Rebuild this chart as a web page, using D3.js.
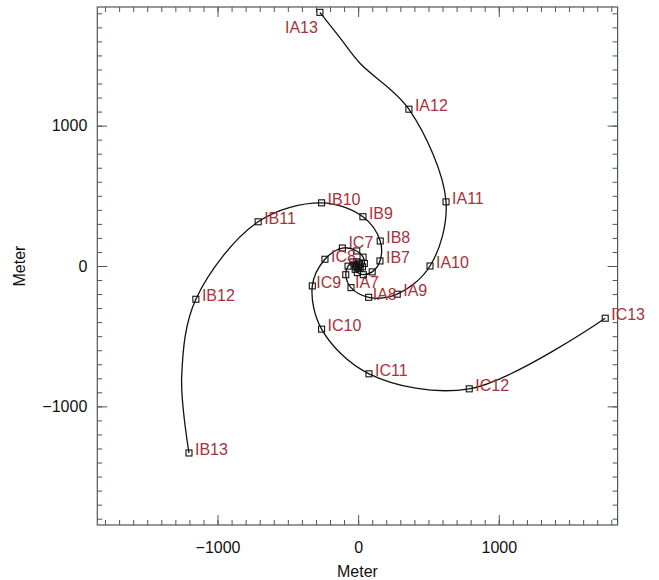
<!DOCTYPE html>
<html>
<head>
<meta charset="utf-8">
<script src="https://cdn.jsdelivr.net/npm/d3@7"></script>
<style>
  html, body { margin: 0; padding: 0; background: #fff; }
  svg { display: block; font-family: "Liberation Sans", Arial, Helvetica, sans-serif; }
</style>
</head>
<body>
<svg id="chart" width="659" height="580"></svg>
<script>
// Station positions (metres) along the three spiral arms, inner to outer
const namesA = ["IA1","IA2","IA3","IA4","IA5","IA6","IA7","IA8","IA9","IA10","IA11","IA12","IA13"];
const xA = [11, 7, -10, -38, -72, -88, -51, 75, 278, 511, 625, 361, -272];
const yA = [8, 20, 30, 29, -1, -62, -154, -223, -201, 0, 457, 1117, 1807];

const namesB = ["IB1","IB2","IB3","IB4","IB5","IB6","IB7","IB8","IB9","IB10","IB11","IB12","IB13"];
const xB = [-12, -21, -21, -6, 37, 100, 155, 157, 34, -260, -711, -1154, -1203];
const yB = [6, -4, -24, -47, -62, -42, 36, 178, 351, 450, 315, -237, -1332];

const namesC = ["IC1","IC2","IC3","IC4","IC5","IC6","IC7","IC8","IC9","IC10","IC11","IC12","IC13"];
const xC = [1, 14, 31, 44, 35, -10, -112, -236, -326, -260, 77, 790, 1757];
const yC = [-14, -16, -6, 18, 63, 107, 128, 48, -142, -450, -768, -875, -372];

// Cable route bends after a given station: [station index, [x, y], ...]
const bendA = [11, [13, 1444], [-130, 1627]];
const bendB = [11, [-1255, -787]];

// Stations 1-6 sit in the dense core and carry no label
const firstLabelled = 6;

// Axis ticks
const majorTicks = [-1000, 0, 1000];
const minorTicks = d3.range(-1800, 1801, 100);
const axisTitle = "Meter";

const svg = d3.select("#chart");
const plotLeft = 97.3, plotRight = 617.6, plotTop = 7, plotBottom = 525;

const x = d3.scaleLinear().domain([-1855, 1845]).range([plotLeft, plotRight]);
const y = d3.scaleLinear().domain([-1845, 1845]).range([plotBottom, plotTop]);

const axisColor = "#4e575a";
const labelColor = "#a8323a";

// ---- frame and ticks on all four sides, pointing inward ----
function styleAxis(g) {
  g.select(".domain").remove();
  g.selectAll(".tick line").attr("stroke", axisColor).attr("stroke-width", 1);
  g.selectAll("text").attr("fill", "#111").style("font-size", "16px")
    .style("font-family", "'Liberation Sans', Arial, Helvetica, sans-serif");
}

const fmt = d3.format("d");
// bottom
svg.append("g").attr("transform", `translate(0,${plotBottom})`)
  .call(d3.axisBottom(x).tickValues(minorTicks).tickSize(-5).tickFormat(""))
  .call(styleAxis);
svg.append("g").attr("transform", `translate(0,${plotBottom})`)
  .call(d3.axisBottom(x).tickValues(majorTicks).tickSize(-10).tickPadding(17).tickFormat(fmt))
  .call(styleAxis);
// top
svg.append("g").attr("transform", `translate(0,${plotTop})`)
  .call(d3.axisTop(x).tickValues(minorTicks).tickSize(-5).tickFormat(""))
  .call(styleAxis);
svg.append("g").attr("transform", `translate(0,${plotTop})`)
  .call(d3.axisTop(x).tickValues(majorTicks).tickSize(-10).tickFormat(""))
  .call(styleAxis);
// left
svg.append("g").attr("transform", `translate(${plotLeft},0)`)
  .call(d3.axisLeft(y).tickValues(minorTicks).tickSize(-5).tickFormat(""))
  .call(styleAxis);
svg.append("g").attr("transform", `translate(${plotLeft},0)`)
  .call(d3.axisLeft(y).tickValues(majorTicks).tickSize(-10).tickPadding(10).tickFormat(fmt))
  .call(styleAxis);
// right
svg.append("g").attr("transform", `translate(${plotRight},0)`)
  .call(d3.axisRight(y).tickValues(minorTicks).tickSize(-5).tickFormat(""))
  .call(styleAxis);
svg.append("g").attr("transform", `translate(${plotRight},0)`)
  .call(d3.axisRight(y).tickValues(majorTicks).tickSize(-10).tickFormat(""))
  .call(styleAxis);

svg.append("rect")
  .attr("x", plotLeft).attr("y", plotTop)
  .attr("width", plotRight - plotLeft).attr("height", plotBottom - plotTop)
  .attr("fill", "none").attr("stroke", axisColor).attr("stroke-width", 1.2);

// axis titles
svg.append("text")
  .attr("x", (plotLeft + plotRight) / 2).attr("y", 577)
  .attr("text-anchor", "middle")
  .style("font-size", "16px").attr("fill", "#111")
  .text(axisTitle);
svg.append("text")
  .attr("transform", `translate(25,${y(0)}) rotate(-90)`)
  .attr("text-anchor", "middle")
  .style("font-size", "16px").attr("fill", "#111")
  .text(axisTitle);

// ---- arms ----
const line = d3.line()
  .x(d => x(d[0])).y(d => y(d[1]))
  .curve(d3.curveCatmullRom.alpha(0.5));

function arm(names, xs, ys, bend, labelOffsets) {
  const pts = names.map((n, i) => ({ name: n, x: xs[i], y: ys[i], i }));
  const route = pts.map(p => [p.x, p.y]);
  if (bend) route.splice(bend[0] + 1, 0, ...bend.slice(1));

  svg.append("path")
    .attr("d", line(route))
    .attr("fill", "none")
    .attr("stroke", "#111")
    .attr("stroke-width", 1.3);

  svg.append("g").selectAll("rect")
    .data(pts).join("rect")
    .attr("x", d => x(d.x) - 3).attr("y", d => y(d.y) - 3)
    .attr("width", 6).attr("height", 6)
    .attr("fill", "none").attr("stroke", "#111").attr("stroke-width", 1.1);

  svg.append("g").selectAll("text")
    .data(pts.filter(p => p.i >= firstLabelled)).join("text")
    .attr("x", d => x(d.x) + ((labelOffsets[d.name] || {}).dx ?? 6))
    .attr("y", d => y(d.y) + ((labelOffsets[d.name] || {}).dy ?? 2))
    .attr("text-anchor", d => (labelOffsets[d.name] || {}).anchor || "start")
    .attr("fill", labelColor)
    .style("font-size", "16px")
    .text(d => d.name);
}

arm(namesA, xA, yA, bendA, {
  IA13: { dx: -2, dy: 21, anchor: "end" },
  IA7: { dx: 4, dy: 0 }, IA8: { dx: 4, dy: 3 }
});
arm(namesB, xB, yB, bendB, {});
arm(namesC, xC, yC, null, { IC9: { dx: 4 }, IC7: { dy: 0 }, IC8: { dy: 3 } });
</script>
</body>
</html>
